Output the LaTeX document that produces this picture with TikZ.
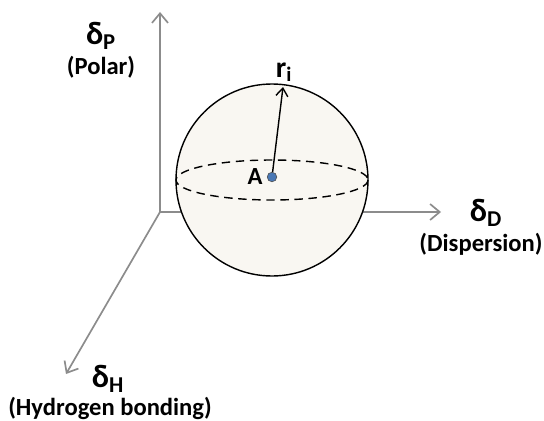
\documentclass[tikz,border=0pt]{standalone}
\usepackage{fontspec}
\setmainfont{Carlito}
\usetikzlibrary{arrows.meta,positioning}

\definecolor{axisgray}{HTML}{8C8C8C}
\definecolor{spherefill}{HTML}{F9F7F2}
\definecolor{dotblue}{HTML}{4A78B5}

\begin{document}
\begin{tikzpicture}[
  x=0.025cm, y=-0.025cm,
  font=\fontsize{17.5}{19}\selectfont\bfseries,
  axis/.style={draw=axisgray, line width=1.2pt, -{Straight Barb[length=2.4mm, width=4mm]}},
  sym/.style={font=\fontsize{23}{24}\selectfont\bfseries, inner sep=0pt},
  axlabel/.style={inner sep=0pt},
  ball/.style={draw=black, line width=1pt, fill=spherefill},
  equator/.style={draw=black, line width=1pt, dash pattern=on 6pt off 4pt}
]
\useasboundingbox (0,0) rectangle (544,420);

% axes
\coordinate (O) at (160,212);
\coordinate (pend) at (160,12);
\coordinate (dend) at (441,212);
\coordinate (hend) at (66,374);
\draw[axis] (O) -- (pend);
\draw[axis] (O) -- (dend);
\draw[axis] (O) -- (hend);

% ---- sphere
\coordinate (C) at (272,180);
\draw[ball] (C) circle [radius=96];
\draw[equator] (C) ellipse [x radius=96, y radius=20];

% ---- centre and radius
\node[circle, fill=dotblue, draw=black!70, line width=0.4pt, inner sep=0pt, minimum size=2.4mm] (A) at (272,177) {};
\node[axlabel, left=1mm of A] (alab) {A};
\coordinate (rtip) at (283,87);
\draw[line width=1pt, -{Straight Barb[length=2mm, width=3mm]}] (A) -- (rtip);
\node[sym, font=\fontsize{21}{22}\selectfont\bfseries] (rlab) at (284,72) {r\textsubscript{i}};

% ---- axis labels
\node[sym] (dp) at (101,36) {δ\textsubscript{P}};
\node[axlabel] (polar) at (101,67) {(Polar)};
\node[sym] (dd) at (486,213) {δ\textsubscript{D}};
\node[axlabel] (disp) at (481,244) {(Dispersion)};
\node[sym] (dh) at (108,379) {δ\textsubscript{H}};
\node[axlabel] (hyd) at (110,408) {(Hydrogen bonding)};
\end{tikzpicture}
\end{document}
